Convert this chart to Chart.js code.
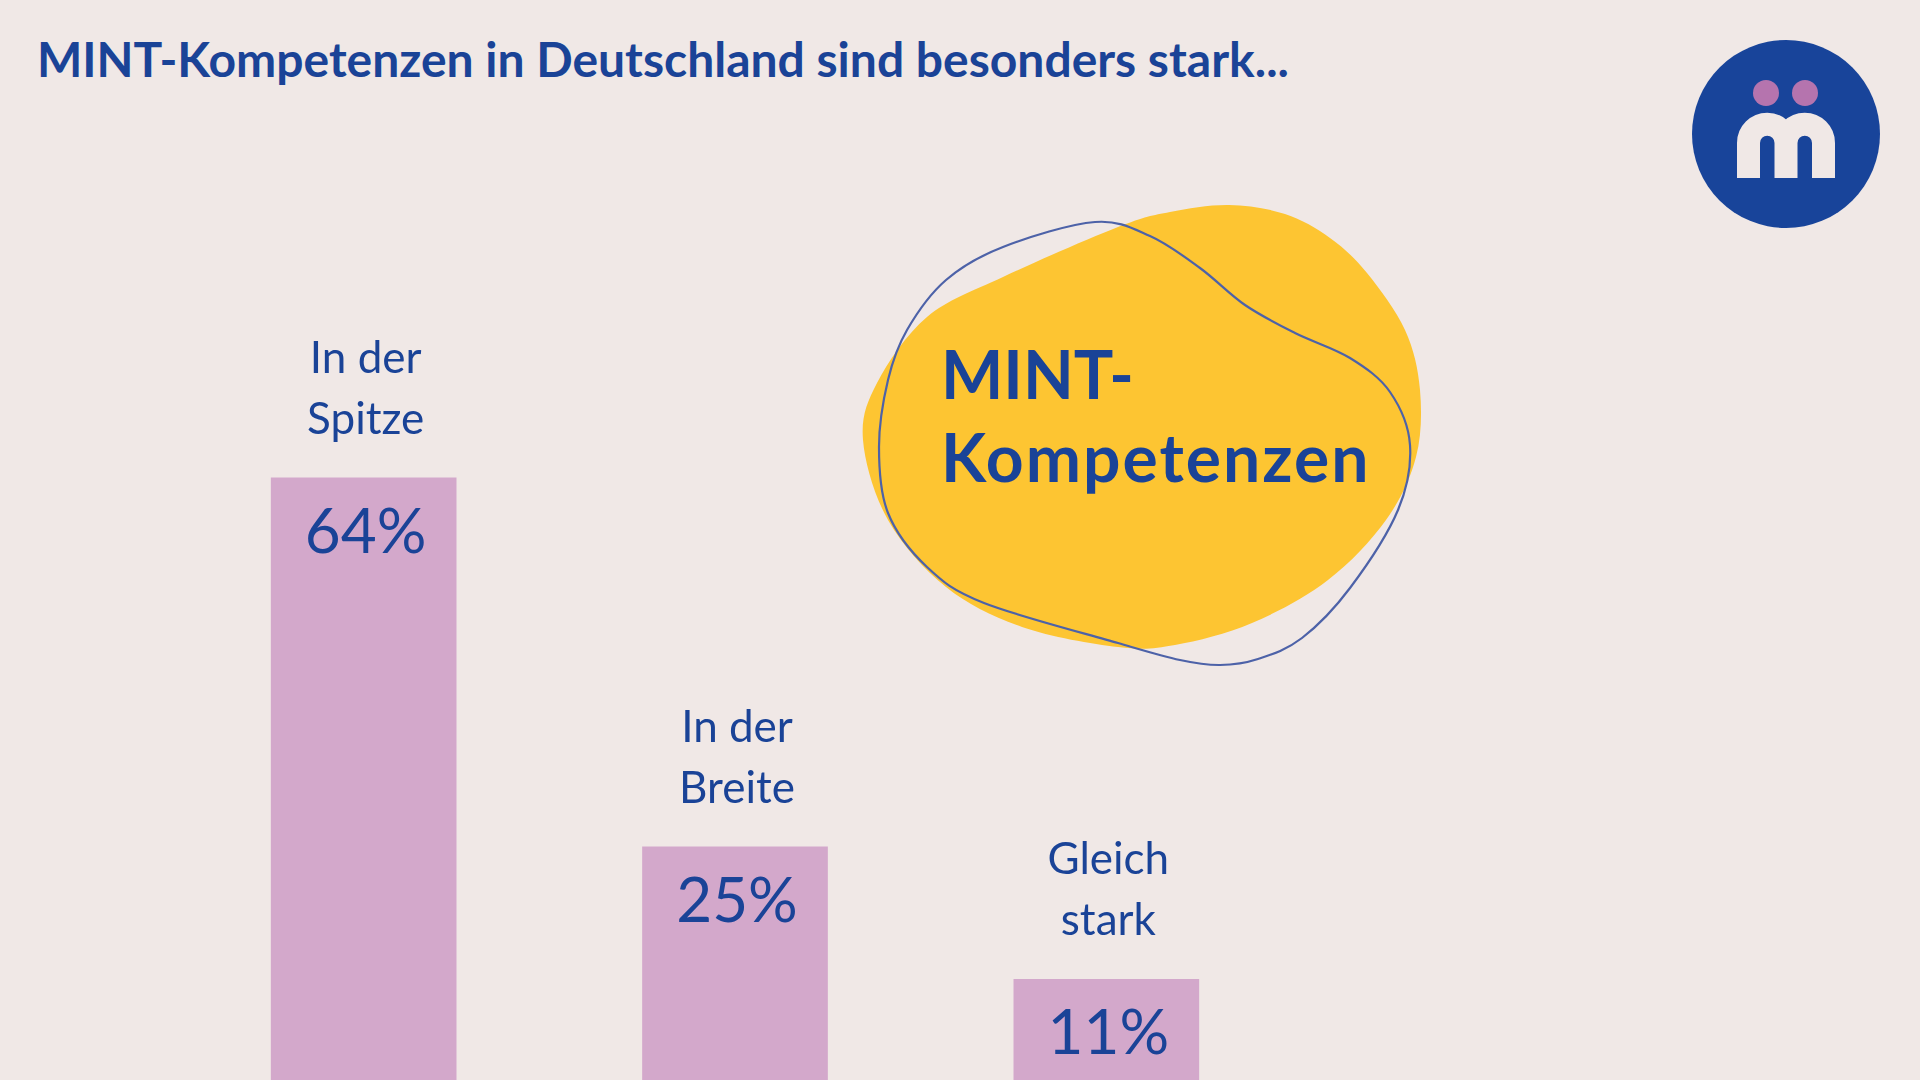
<!DOCTYPE html>
<html lang="de">
<head>
<meta charset="utf-8">
<title>MINT-Kompetenzen</title>
<script src="https://cdn.jsdelivr.net/npm/chart.js@4.4.1/dist/chart.umd.min.js"></script>
<style>
    html, body { margin: 0; padding: 0; width: 1920px; height: 1080px; overflow: hidden; background: #F0E8E6; }
    #deco { position: absolute; left: 0; top: 0; }
    .chart-wrap { position: absolute; left: 0; top: 0; width: 1920px; height: 1083px; }
</style>
</head>
<body>
<svg id="deco" width="1920" height="1080" xmlns="http://www.w3.org/2000/svg">
    <text x="37" y="77" font-family="Lato" font-weight="700" font-size="48" fill="#1A4397">MINT-Kompetenzen in Deutschland sind besonders stark...</text>
    <path id="blobFill" fill="#FDC532"></path>
    <path id="blobLine" fill="none" stroke="#4D62A8" stroke-width="2.2"></path>
    <text x="941" y="399" font-family="Lato" font-weight="700" font-size="66" fill="#1A4397">MINT-</text>
    <text x="941" y="482" font-family="Lato" font-weight="700" font-size="66" letter-spacing="2" fill="#1A4397">Kompetenzen</text>
    <!-- logo -->
    <circle cx="1786" cy="134" r="94" fill="#18449A"></circle>
    <circle cx="1766" cy="93" r="13" fill="#B574AE"></circle>
    <circle cx="1805" cy="93" r="13" fill="#B574AE"></circle>
    <path d="M1748.5 178 V143 A18.75 18.75 0 0 1 1786 143 V178 M1786 143 A18.75 18.75 0 0 1 1823.5 143 V178"
          fill="none" stroke="#F0E8E6" stroke-width="23" stroke-linejoin="round"></path>
</svg>
<div class="chart-wrap"><canvas id="mainChart"></canvas></div>
<script>
// --- DATA ---
const categories = [['In der', 'Spitze'], ['In der', 'Breite'], ['Gleich', 'stark']];
const shares = [64, 25, 11];
const valueLabels = ['64%', '25%', '11%'];

const blue = '#1A4397';

// --- BLOB SHAPES (decoration) ---
const fillPts = [[1229,205],[1285,214],[1330,238],[1367,273],[1405,330],[1420,390],[1416,457],[1386,520],
    [1328,580],[1252,623],[1175,645],[1118,647],[1022,627],[946,587],[888,520],[863,440],[877,383],
    [927,317],[1003,277],[1118,227],[1170,212]];
const linePts = [[1095,222],[1150,236],[1200,268],[1245,305],[1295,333],[1350,358],[1390,392],[1410,445],
    [1398,510],[1350,588],[1302,638],[1258,659],[1220,665],[1180,660],[1118,643],[984,603],[927,567],
    [888,513],[879,447],[888,380],[907,330],[946,280],[1003,247]];

function smoothPath(pts) {
    const n = pts.length;
    let d = `M${pts[0][0]} ${pts[0][1]}`;
    for (let i = 0; i < n; i++) {
        const p0 = pts[(i - 1 + n) % n], p1 = pts[i], p2 = pts[(i + 1) % n], p3 = pts[(i + 2) % n];
        const c1 = [p1[0] + (p2[0] - p0[0]) / 6, p1[1] + (p2[1] - p0[1]) / 6];
        const c2 = [p2[0] - (p3[0] - p1[0]) / 6, p2[1] - (p3[1] - p1[1]) / 6];
        d += ` C${c1[0]} ${c1[1]} ${c2[0]} ${c2[1]} ${p2[0]} ${p2[1]}`;
    }
    return d + 'Z';
}
document.getElementById('blobFill').setAttribute('d', smoothPath(fillPts));
document.getElementById('blobLine').setAttribute('d', smoothPath(linePts));

// --- LABELS ON BARS ---
const barLabels = {
    id: 'barLabels',
    afterDatasetsDraw(chart) {
        const { ctx } = chart;
        const meta = chart.getDatasetMeta(0);
        ctx.save();
        ctx.fillStyle = blue;
        ctx.textAlign = 'center';
        ctx.textBaseline = 'alphabetic';
        meta.data.forEach((bar, i) => {
            ctx.font = '62px Lato';
            ctx.fillText(valueLabels[i], bar.x + 2, bar.y + 75);
            ctx.font = '44px Lato';
            const lines = chart.data.labels[i];
            lines.forEach((line, j) => {
                ctx.fillText(line, bar.x + 2, bar.y - 44 - (lines.length - 1 - j) * 61);
            });
        });
        ctx.restore();
    }
};

new Chart(document.getElementById('mainChart'), {
    type: 'bar',
    data: {
        labels: categories,
        datasets: [{
            data: shares,
            backgroundColor: '#D3A8CB',
            borderWidth: 0,
            barPercentage: 1,
            categoryPercentage: 0.5
        }]
    },
    options: {
        responsive: true,
        maintainAspectRatio: false,
        animation: false,
        layout: { padding: { left: 178, right: 628, top: 137, bottom: 0 } },
        plugins: { legend: { display: false }, tooltip: { enabled: false } },
        scales: {
            x: { display: false, offset: true },
            y: { display: false, min: 0, max: 100 }
        }
    },
    plugins: [barLabels]
});
</script>
</body>
</html>
